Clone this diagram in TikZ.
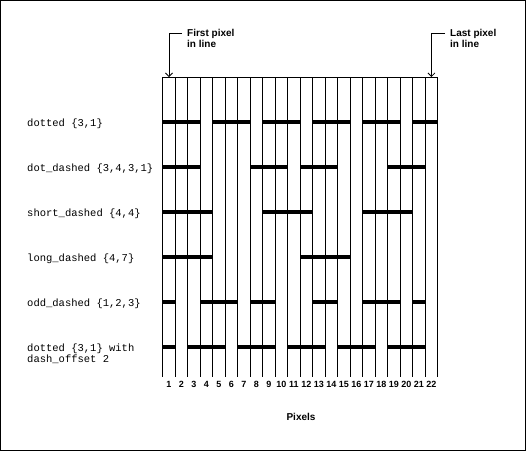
\documentclass[tikz,border=0pt]{standalone}
\usepackage{fontspec}
\setmainfont{Liberation Sans}
\setmonofont{Liberation Mono}
\usetikzlibrary{arrows.meta}

\begin{document}
\begin{tikzpicture}[x=1pt, y=-1pt,
    gridline/.style={line width=1pt},
    bar/.style={line width=3.3pt},
    pointer/.style={line width=0.8pt, -{Straight Barb[length=3.5pt,width=7pt]}},
    rowlabel/.style={font=\fontsize{10.5}{11}\selectfont\ttfamily, anchor=west, inner sep=0pt, align=left},
    callout/.style={font=\fontsize{10}{11.5}\selectfont\bfseries, anchor=north west, inner sep=0pt, align=left},
    pixnum/.style={font=\fontsize{9}{9}\selectfont\bfseries, inner sep=0pt}
  ]
  \useasboundingbox (0,0) rectangle (526,451);
  \draw[line width=1pt] (0.5,0.5) rectangle (525,450);

  % grid of pixel columns
  \draw[gridline] (162.7,77) -- (437.7,77);
  \foreach \k in {0,...,22}
    \draw[gridline] (162.7+12.5*\k,77) -- (162.7+12.5*\k,377);

  % pixel numbers
  \foreach \k in {1,...,22}
    \node[pixnum] (n\k) at (156.45+12.5*\k,384) {\k};
  \node[font=\fontsize{10}{12}\selectfont\bfseries] (pixels) at (301,417) {Pixels};

  % line styles, one row each
  \node[rowlabel] (dotted) at (27,124) {dotted \{3,1\}};
  \node[rowlabel] (dotdashed) at (27,169) {dot\_dashed \{3,4,3,1\}};
  \node[rowlabel] (shortdashed) at (27,214) {short\_dashed \{4,4\}};
  \node[rowlabel] (longdashed) at (27,259) {long\_dashed \{4,7\}};
  \node[rowlabel] (odddashed) at (27,304) {odd\_dashed \{1,2,3\}};
  \node[rowlabel] (offset) at (27,354) {dotted \{3,1\} with\\dash\_offset 2};

  % pixels that are set
  \foreach \y/\runs in {122/{1/3,5/7,9/11,13/15,17/19,21/22},
                        167/{1/3,8/10,12/14,19/21},
                        212/{1/4,9/12,17/20},
                        257/{1/4,12/15},
                        302/{1/1,4/6,8/9,13/14,17/19,21/21},
                        347/{1/1,3/5,7/9,11/13,15/17,19/21}}
    \foreach \a/\b in \runs
      \draw[bar] (150.2+12.5*\a,\y) -- (162.7+12.5*\b,\y);

  % callouts
  \node[callout] (first) at (187,29) {First pixel\\in line};
  \node[callout] (last) at (450,29) {Last pixel\\in line};
  \coordinate (firsttip) at (169,77);
  \coordinate (lasttip) at (431.45,77);
  \draw[pointer] ([xshift=-5pt,yshift=-4.3pt]first.north west) -| (firsttip);
  \draw[pointer] ([xshift=-5pt,yshift=-4.3pt]last.north west) -| (lasttip);
\end{tikzpicture}
\end{document}
